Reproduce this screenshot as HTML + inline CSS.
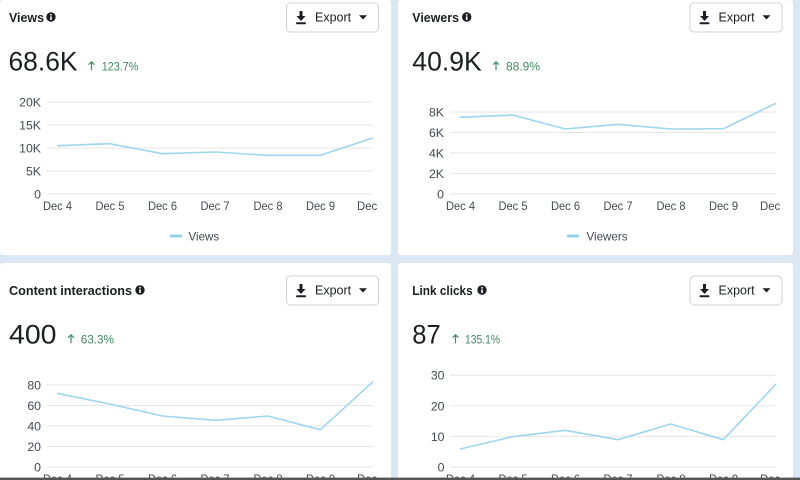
<!DOCTYPE html>
<html>
<head>
<meta charset="utf-8">
<style>
html,body{margin:0;padding:0;background:#dce7f4;}
svg{display:block;}
text{font-family:"Liberation Sans",Arial,sans-serif;}
.t{font-weight:bold;font-size:13px;fill:#1c1e21;}
.big{font-size:26.5px;fill:#1c1e21;}
.pct{font-size:12px;fill:#3f8a60;}
.yl{font-size:12.3px;fill:#444950;text-anchor:end;}
.xl{font-size:12px;fill:#444950;text-anchor:middle;}
.ex{font-size:12.5px;fill:#1c1e21;}
.lg{font-size:11.6px;fill:#444950;}
.g{stroke:#e6e6e6;stroke-width:1;}
.ln{fill:none;stroke:#9fd5ed;stroke-width:1.6;stroke-linejoin:round;}
</style>
</head>
<body>
<svg width="800" height="480" viewBox="0 0 800 480" xmlns="http://www.w3.org/2000/svg">
<defs>
<clipPath id="cl"><rect x="0" y="0" width="377" height="480"/></clipPath>
<clipPath id="cr"><rect x="398" y="0" width="383" height="480"/></clipPath>
<g id="info">
<circle cx="0" cy="0" r="4.7" fill="#1c1e21"/>
<circle cx="0" cy="-2.2" r="0.9" fill="#fff"/>
<rect x="-0.8" y="-0.6" width="1.6" height="3.6" fill="#fff"/>
</g>
<g id="btn">
<rect x="0.5" y="0.5" width="92" height="29" rx="4" fill="#fff" stroke="#cdd1d6"/>
<rect x="13.5" y="8.5" width="3" height="6" fill="#1c1e21"/>
<path d="M10.5 13.5 L19.5 13.5 L15 18.5 Z" fill="#1c1e21"/>
<rect x="10" y="19.8" width="10" height="2" rx="1" fill="#1c1e21"/>
<text class="ex" x="29" y="19">Export</text>
<path d="M73 12.8 L81 12.8 L77 17 Z" fill="#1c1e21"/>
</g>
</defs>

<!-- panels -->
<rect x="0" y="0" width="391" height="255" fill="#fff" rx="3"/>
<rect x="398" y="0" width="395" height="255" fill="#fff" rx="3"/>
<rect x="0" y="263" width="391" height="217" fill="#fff" rx="3"/>
<rect x="398" y="263" width="395" height="217" fill="#fff" rx="3"/>

<!-- ===== Top-left: Views ===== -->
<text class="t" x="9" y="22" textLength="35" lengthAdjust="spacingAndGlyphs">Views</text>
<use href="#info" x="51" y="17"/>
<use href="#btn" x="286" y="2.5"/>
<text class="big" x="8.5" y="70.7" textLength="69" lengthAdjust="spacingAndGlyphs">68.6K</text>
<path d="M91.5 70.3 V61.8 M88.6 64.7 L91.5 61.8 L94.4 64.7" fill="none" stroke="#3f8a60" stroke-width="1.2"/>
<text class="pct" x="101.7" y="70.3" textLength="36.6" lengthAdjust="spacingAndGlyphs">123.7%</text>

<line class="g" x1="47" y1="102" x2="373" y2="102"/>
<line class="g" x1="47" y1="125" x2="373" y2="125"/>
<line class="g" x1="47" y1="148" x2="373" y2="148"/>
<line class="g" x1="47" y1="171" x2="373" y2="171"/>
<line class="g" x1="47" y1="194" x2="373" y2="194"/>
<text class="yl" x="41" y="106.4">20K</text>
<text class="yl" x="41" y="129.4">15K</text>
<text class="yl" x="41" y="152.4">10K</text>
<text class="yl" x="41" y="175.4">5K</text>
<text class="yl" x="41" y="198.4">0</text>
<g clip-path="url(#cl)">
<text class="xl" x="57.5" y="210" textLength="29" lengthAdjust="spacingAndGlyphs">Dec 4</text>
<text class="xl" x="110" y="210" textLength="29" lengthAdjust="spacingAndGlyphs">Dec 5</text>
<text class="xl" x="162.5" y="210" textLength="29" lengthAdjust="spacingAndGlyphs">Dec 6</text>
<text class="xl" x="215" y="210" textLength="29" lengthAdjust="spacingAndGlyphs">Dec 7</text>
<text class="xl" x="268" y="210" textLength="29" lengthAdjust="spacingAndGlyphs">Dec 8</text>
<text class="xl" x="320.5" y="210" textLength="29" lengthAdjust="spacingAndGlyphs">Dec 9</text>
<text class="xl" x="375" y="210" textLength="36" lengthAdjust="spacingAndGlyphs">Dec 10</text>
</g>
<polyline class="ln" points="57,145.7 109.7,143.7 162.3,153.7 215,152 267.7,155.3 320.3,155.3 373,138"/>
<rect x="170" y="234.5" width="12" height="3" rx="1.5" fill="#8fd0ec"/>
<text class="lg" x="188.5" y="240.3">Views</text>

<!-- ===== Top-right: Viewers ===== -->
<text class="t" x="412.3" y="22" textLength="46.7" lengthAdjust="spacingAndGlyphs">Viewers</text>
<use href="#info" x="466.7" y="17"/>
<use href="#btn" x="689.5" y="2.5"/>
<text class="big" x="412.3" y="70.7" textLength="69.4" lengthAdjust="spacingAndGlyphs">40.9K</text>
<path d="M496 70.3 V61.8 M493.1 64.7 L496 61.8 L498.9 64.7" fill="none" stroke="#3f8a60" stroke-width="1.2"/>
<text class="pct" x="506" y="70.3" textLength="34" lengthAdjust="spacingAndGlyphs">88.9%</text>

<line class="g" x1="450" y1="112" x2="776" y2="112"/>
<line class="g" x1="450" y1="132.5" x2="776" y2="132.5"/>
<line class="g" x1="450" y1="153" x2="776" y2="153"/>
<line class="g" x1="450" y1="173.5" x2="776" y2="173.5"/>
<line class="g" x1="450" y1="194" x2="776" y2="194"/>
<text class="yl" x="444" y="116.4">8K</text>
<text class="yl" x="444" y="136.9">6K</text>
<text class="yl" x="444" y="157.4">4K</text>
<text class="yl" x="444" y="177.9">2K</text>
<text class="yl" x="444" y="198.4">0</text>
<g clip-path="url(#cr)">
<text class="xl" x="460.5" y="210" textLength="29" lengthAdjust="spacingAndGlyphs">Dec 4</text>
<text class="xl" x="513" y="210" textLength="29" lengthAdjust="spacingAndGlyphs">Dec 5</text>
<text class="xl" x="565.5" y="210" textLength="29" lengthAdjust="spacingAndGlyphs">Dec 6</text>
<text class="xl" x="618" y="210" textLength="29" lengthAdjust="spacingAndGlyphs">Dec 7</text>
<text class="xl" x="671" y="210" textLength="29" lengthAdjust="spacingAndGlyphs">Dec 8</text>
<text class="xl" x="723.5" y="210" textLength="29" lengthAdjust="spacingAndGlyphs">Dec 9</text>
<text class="xl" x="778" y="210" textLength="36" lengthAdjust="spacingAndGlyphs">Dec 10</text>
</g>
<polyline class="ln" points="460,117.3 512.7,115 565.3,129 618,124.3 670.7,129 723.3,128.7 776,103.3"/>
<rect x="567" y="234.5" width="12" height="3" rx="1.5" fill="#8fd0ec"/>
<text class="lg" x="586.5" y="240.3">Viewers</text>

<!-- ===== Bottom-left: Content interactions ===== -->
<text class="t" x="9" y="295" textLength="123" lengthAdjust="spacingAndGlyphs">Content interactions</text>
<use href="#info" x="140" y="290"/>
<use href="#btn" x="286" y="275.5"/>
<text class="big" x="9" y="343.5" textLength="47.5" lengthAdjust="spacingAndGlyphs">400</text>
<path d="M71 343.3 V334.8 M68.1 337.7 L71 334.8 L73.9 337.7" fill="none" stroke="#3f8a60" stroke-width="1.2"/>
<text class="pct" x="80.7" y="343.3" textLength="33.3" lengthAdjust="spacingAndGlyphs">63.3%</text>

<line class="g" x1="47" y1="385" x2="373" y2="385"/>
<line class="g" x1="47" y1="405.5" x2="373" y2="405.5"/>
<line class="g" x1="47" y1="426" x2="373" y2="426"/>
<line class="g" x1="47" y1="446.5" x2="373" y2="446.5"/>
<line class="g" x1="47" y1="467" x2="373" y2="467"/>
<text class="yl" x="41" y="389.4">80</text>
<text class="yl" x="41" y="409.9">60</text>
<text class="yl" x="41" y="430.4">40</text>
<text class="yl" x="41" y="450.9">20</text>
<text class="yl" x="41" y="471.4">0</text>
<g clip-path="url(#cl)">
<text class="xl" x="57.5" y="483" textLength="29" lengthAdjust="spacingAndGlyphs">Dec 4</text>
<text class="xl" x="110" y="483" textLength="29" lengthAdjust="spacingAndGlyphs">Dec 5</text>
<text class="xl" x="162.5" y="483" textLength="29" lengthAdjust="spacingAndGlyphs">Dec 6</text>
<text class="xl" x="215" y="483" textLength="29" lengthAdjust="spacingAndGlyphs">Dec 7</text>
<text class="xl" x="268" y="483" textLength="29" lengthAdjust="spacingAndGlyphs">Dec 8</text>
<text class="xl" x="320.5" y="483" textLength="29" lengthAdjust="spacingAndGlyphs">Dec 9</text>
<text class="xl" x="375" y="483" textLength="36" lengthAdjust="spacingAndGlyphs">Dec 10</text>
</g>
<polyline class="ln" points="57,393.3 109.7,404 162.3,416 215,420.3 267.7,416 320.3,429.7 373,381.7"/>

<!-- ===== Bottom-right: Link clicks ===== -->
<text class="t" x="412.3" y="295" textLength="60.4" lengthAdjust="spacingAndGlyphs">Link clicks</text>
<use href="#info" x="482" y="290"/>
<use href="#btn" x="689.5" y="275.5"/>
<text class="big" x="412.3" y="343.5" textLength="28.4" lengthAdjust="spacingAndGlyphs">87</text>
<path d="M455.5 343.3 V334.8 M452.6 337.7 L455.5 334.8 L458.4 337.7" fill="none" stroke="#3f8a60" stroke-width="1.2"/>
<text class="pct" x="465" y="343.3" textLength="35" lengthAdjust="spacingAndGlyphs">135.1%</text>

<line class="g" x1="450" y1="375.3" x2="776" y2="375.3"/>
<line class="g" x1="450" y1="405.9" x2="776" y2="405.9"/>
<line class="g" x1="450" y1="436.4" x2="776" y2="436.4"/>
<line class="g" x1="450" y1="467" x2="776" y2="467"/>
<text class="yl" x="444.5" y="379.7">30</text>
<text class="yl" x="444.5" y="410.3">20</text>
<text class="yl" x="444.5" y="440.8">10</text>
<text class="yl" x="444.5" y="471.4">0</text>
<g clip-path="url(#cr)">
<text class="xl" x="460.5" y="483" textLength="29" lengthAdjust="spacingAndGlyphs">Dec 4</text>
<text class="xl" x="513" y="483" textLength="29" lengthAdjust="spacingAndGlyphs">Dec 5</text>
<text class="xl" x="565.5" y="483" textLength="29" lengthAdjust="spacingAndGlyphs">Dec 6</text>
<text class="xl" x="618" y="483" textLength="29" lengthAdjust="spacingAndGlyphs">Dec 7</text>
<text class="xl" x="671" y="483" textLength="29" lengthAdjust="spacingAndGlyphs">Dec 8</text>
<text class="xl" x="723.5" y="483" textLength="29" lengthAdjust="spacingAndGlyphs">Dec 9</text>
<text class="xl" x="778" y="483" textLength="36" lengthAdjust="spacingAndGlyphs">Dec 10</text>
</g>
<polyline class="ln" points="460,449 512.7,436.7 565.3,430.3 618,439.7 670.7,424 723.3,439.7 776,384"/>

<!-- bottom dark edge -->
<rect x="0" y="477.6" width="800" height="2.4" fill="#555"/>
</svg>
</body>
</html>
